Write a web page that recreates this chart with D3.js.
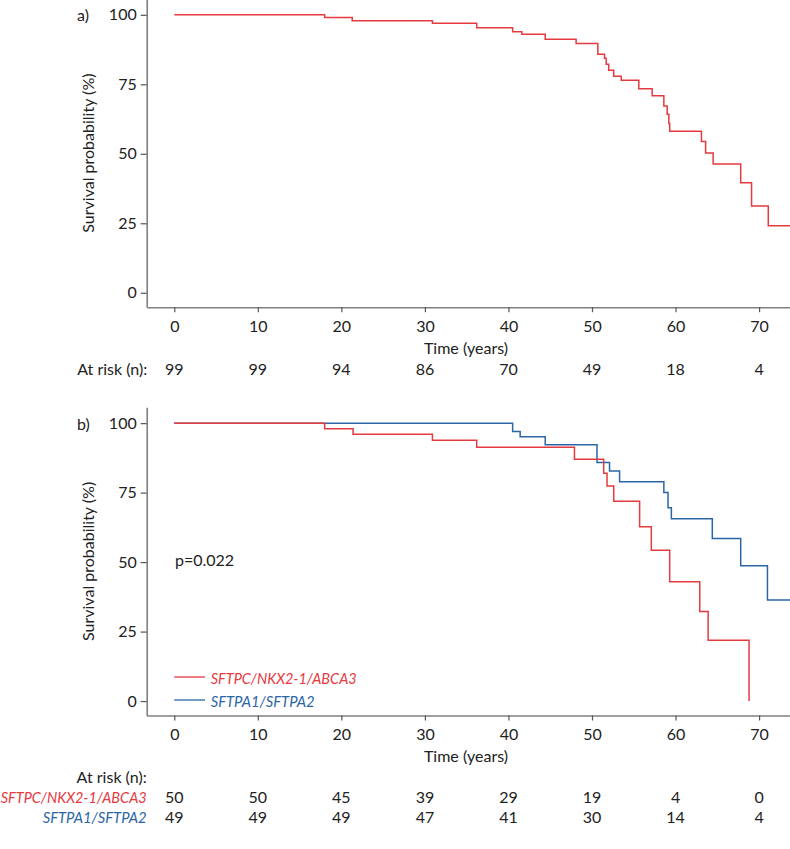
<!DOCTYPE html>
<html><head><meta charset="utf-8">
<script src="https://cdn.jsdelivr.net/npm/d3@7"></script>
<style>
body{margin:0;background:#fff;}
svg{display:block;font-family:Lato,"Noto Sans",sans-serif;}
</style></head>
<body><svg id="c" width="790" height="849"></svg>
<script>
// ---- data ----
const xTicks = [0,10,20,30,40,50,60,70];
const yTicks = [0,25,50,75,100];
const endFollowUp = 73.7;

const timesA = [0,18.0,21.3,30.9,36.2,40.5,41.6,44.4,48.1,50.7,51.5,51.7,52.0,52.6,53.5,55.6,57.2,58.6,59.0,59.2,59.3,63.1,63.6,64.5,67.8,69.1,71.1];
const survA  = [100,99.0,97.9,97.0,95.4,93.9,93.0,91.2,89.7,85.8,84.4,82.2,80.1,77.9,76.5,73.4,70.9,67.2,64.2,60.9,58.1,54.4,50.3,46.3,39.6,31.2,24.1];
const atRiskA = [99,99,94,86,70,49,18,4];

const timesRed = [0,18.0,21.4,30.9,36.2,47.9,51.4,51.8,52.6,55.7,57.1,59.3,62.9,63.9,68.8];
const survRed  = [100,98.0,96.0,93.8,91.3,87.0,82.0,77.4,71.9,62.7,54.3,42.9,32.2,21.9,0];
const timesBlue = [0,40.5,41.4,44.4,50.6,52.1,53.3,58.6,59.1,59.5,64.4,67.8,71.0];
const survBlue  = [100,97.0,95.1,92.2,85.8,82.8,78.9,75.0,69.6,65.6,58.5,48.7,36.4];
const atRiskRed  = [50,50,45,39,29,19,4,0];
const atRiskBlue = [49,49,49,47,41,30,14,4];

const groupRed = "SFTPC/NKX2-1/ABCA3";
const groupBlue = "SFTPA1/SFTPA2";
const pText = "p=0.022";

// ---- styles ----
const RED = "#e53a3f", BLUE = "#2a66a6", TXT = "#222", AX = "#808080";
const FS = 16;
const labelWidth = {[groupRed]:146, [groupBlue]:104};

const svg = d3.select("#c");
const x = d3.scaleLinear().domain([-3.3, 73.7]).range([146.7, 790]);

function panel(top, label){
  const y = d3.scaleLinear().domain([-5.2, 105.7]).range([top+292.2, top-16]);
  const y0 = y(-5.2);
  const g = svg.append("g");
  const ya = g.append("g").attr("transform",`translate(${x(-3.3)},0)`)
    .call(d3.axisLeft(y).tickValues(yTicks).tickSize(6).tickPadding(4).tickSizeOuter(0));
  const xa = g.append("g").attr("transform",`translate(0,${y0})`)
    .call(d3.axisBottom(x).tickValues(xTicks).tickSize(5).tickPadding(8).tickSizeOuter(0));
  [ya,xa].forEach(a=>{
    a.select(".domain").attr("stroke",AX).attr("stroke-width",1.6);
    a.selectAll(".tick line").attr("stroke","#555").attr("stroke-width",1.2);
    a.selectAll(".tick text").attr("fill",TXT).style("font-size",FS+"px").style("font-family","Lato");
  });
  g.append("text").attr("x",466).attr("y",y0+40).attr("text-anchor","middle")
    .attr("dominant-baseline","central").attr("fill",TXT).style("font-size",FS+"px").text("Time (years)");
  g.append("text").attr("transform",`translate(87,${(y(105.7)+y0)/2}) rotate(-90)`)
    .attr("text-anchor","middle").attr("dominant-baseline","central").attr("fill",TXT)
    .style("font-size",FS+"px").text("Survival probability (%)");
  g.append("text").attr("x",77).attr("y",y(100)).attr("dominant-baseline","central")
    .attr("fill",TXT).style("font-size",FS+"px").text(label);
  return {g,y,y0};
}

function curve(g,y,times,surv,color,end){
  const pts = times.map((t,i)=>[t,surv[i]]);
  if(end!==undefined) pts.push([end,surv[surv.length-1]]);
  const line = d3.line().x(d=>x(d[0])).y(d=>y(d[1])).curve(d3.curveStepAfter);
  g.append("path").attr("d",line(pts)).attr("fill","none").attr("stroke",color).attr("stroke-width",1.5);
}

// panel a
const A = panel(15, "a)");
curve(A.g, A.y, timesA, survA, RED, endFollowUp);
svg.append("text").attr("x",147.3).attr("y",368.3).attr("text-anchor","end").attr("dominant-baseline","central")
  .attr("fill",TXT).style("font-size",FS+"px").text("At risk (n):");
svg.selectAll(".ra").data(atRiskA).enter().append("text")
  .attr("x",(d,i)=>x(xTicks[i])).attr("y",368.3).attr("text-anchor","middle").attr("dominant-baseline","central")
  .attr("fill",TXT).style("font-size",FS+"px").text(d=>d);

// panel b
const B = panel(423.3, "b)");
curve(B.g, B.y, timesBlue, survBlue, BLUE, endFollowUp);
curve(B.g, B.y, timesRed, survRed, RED);
B.g.append("text").attr("x",175).attr("y",559.3).attr("dominant-baseline","central")
  .attr("fill",TXT).style("font-size",FS+"px").text(pText);
[[groupRed,RED,677],[groupBlue,BLUE,700]].forEach(([t,c,yy])=>{
  B.g.append("line").attr("x1",174.3).attr("x2",205).attr("y1",yy).attr("y2",yy).attr("stroke",c).attr("stroke-width",1.3);
  B.g.append("text").attr("x",210.7).attr("y",yy).attr("dominant-baseline","central").attr("fill",c)
    .attr("textLength",labelWidth[t]).attr("lengthAdjust","spacingAndGlyphs")
    .style("font-size",FS+"px").style("font-style","italic").text(t);
});
svg.append("text").attr("x",146.7).attr("y",776.7).attr("text-anchor","end").attr("dominant-baseline","central")
  .attr("fill",TXT).style("font-size",FS+"px").text("At risk (n):");
[[groupRed,RED,atRiskRed,796.7],[groupBlue,BLUE,atRiskBlue,816.7]].forEach(([t,c,vals,yy])=>{
  svg.append("text").attr("x",146.7-labelWidth[t]).attr("y",yy).attr("dominant-baseline","central")
    .attr("textLength",labelWidth[t]).attr("lengthAdjust","spacingAndGlyphs")
    .attr("fill",c).style("font-size",FS+"px").style("font-style","italic").text(t);
  svg.append("g").selectAll("text").data(vals).enter().append("text")
    .attr("x",(d,i)=>x(xTicks[i])).attr("y",yy).attr("text-anchor","middle").attr("dominant-baseline","central")
    .attr("fill",TXT).style("font-size",FS+"px").text(d=>d);
});
</script></body></html>
